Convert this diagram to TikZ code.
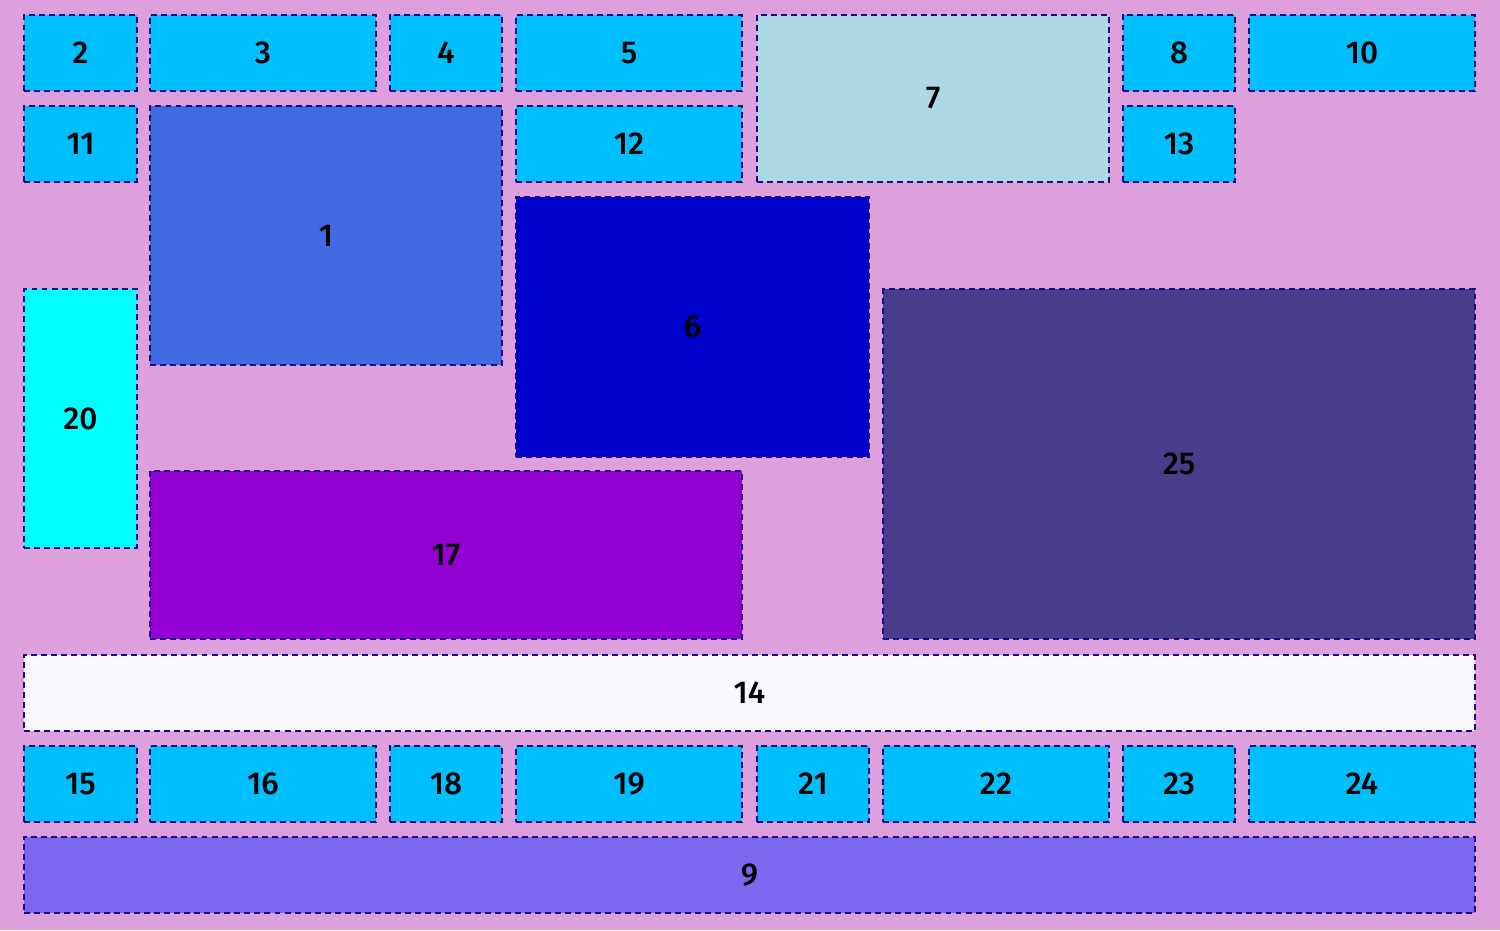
\documentclass[tikz,border=0pt]{standalone}
\usepackage{fontspec}
\setmainfont{Fira Sans}[UprightFont=* Medium]
\usepackage{tikz}

\definecolor{plum}{HTML}{DDA0DD}
\definecolor{deepsky}{HTML}{00BFFF}
\definecolor{lightblu}{HTML}{ADD8E6}
\definecolor{royal}{HTML}{4169E1}
\definecolor{medblue}{HTML}{0000CD}
\definecolor{aqua}{HTML}{00FFFF}
\definecolor{slatedark}{HTML}{483D8B}
\definecolor{violetdark}{HTML}{9400D3}
\definecolor{ghost}{HTML}{F8F8FF}
\definecolor{slatemed}{HTML}{7B68EE}
\definecolor{edgeblue}{HTML}{1C0C82}

\begin{document}
\begin{tikzpicture}[
    x=0.02cm, y=-0.02cm,
    cell/.style={rectangle, draw=edgeblue, line width=1.1pt,
        dash pattern=on 3.4pt off 2.3pt, fill=deepsky,
        inner sep=0pt, outer sep=0pt, minimum height=1.52cm,
        font=\fontsize{18}{20}\selectfont},
    narrow/.style={cell, minimum width=2.25cm},
    wide/.style={cell, minimum width=4.52cm}
]
    \fill[plum] (0,0) rectangle (1500,930);
    \useasboundingbox (0,0) rectangle (1500,930);
    % first row
    \node[narrow] (n2) at (80.5,53) {2};
    \node[wide] (n3) at (263,53) {3};
    \node[narrow] (n4) at (446,53) {4};
    \node[wide] (n5) at (629,53) {5};
    \node[cell, fill=lightblu, minimum width=7.04cm, minimum height=3.34cm] (n7) at (933,98.5) {7};
    \node[narrow] (n8) at (1179,53) {8};
    \node[wide] (n10) at (1362,53) {10};
    % second row
    \node[narrow] (n11) at (80.5,144) {11};
    \node[cell, fill=royal, minimum width=7.04cm, minimum height=5.18cm] (n1) at (326,235.5) {1};
    \node[wide] (n12) at (629,144) {12};
    \node[narrow] (n13) at (1179,144) {13};
    % middle
    \node[cell, fill=medblue, minimum width=7.06cm, minimum height=5.2cm] (n6) at (692.5,327) {6};
    \node[cell, fill=aqua, minimum width=2.25cm, minimum height=5.18cm] (n20) at (80.5,418.5) {20};
    \node[cell, fill=slatedark, minimum width=11.84cm, minimum height=7cm] (n25) at (1179,464) {25};
    \node[cell, fill=violetdark, minimum width=11.84cm, minimum height=3.36cm] (n17) at (446,555) {17};
    \node[cell, fill=ghost, minimum width=29.02cm] (n14) at (749.5,693) {14};
    % bottom rows
    \node[narrow] (n15) at (80.5,784) {15};
    \node[wide] (n16) at (263,784) {16};
    \node[narrow] (n18) at (446,784) {18};
    \node[wide] (n19) at (629,784) {19};
    \node[narrow] (n21) at (813,784) {21};
    \node[wide] (n22) at (996,784) {22};
    \node[narrow] (n23) at (1179,784) {23};
    \node[wide] (n24) at (1362,784) {24};
    \node[cell, fill=slatemed, minimum width=29.02cm] (n9) at (749.5,875) {9};
\end{tikzpicture}
\end{document}
